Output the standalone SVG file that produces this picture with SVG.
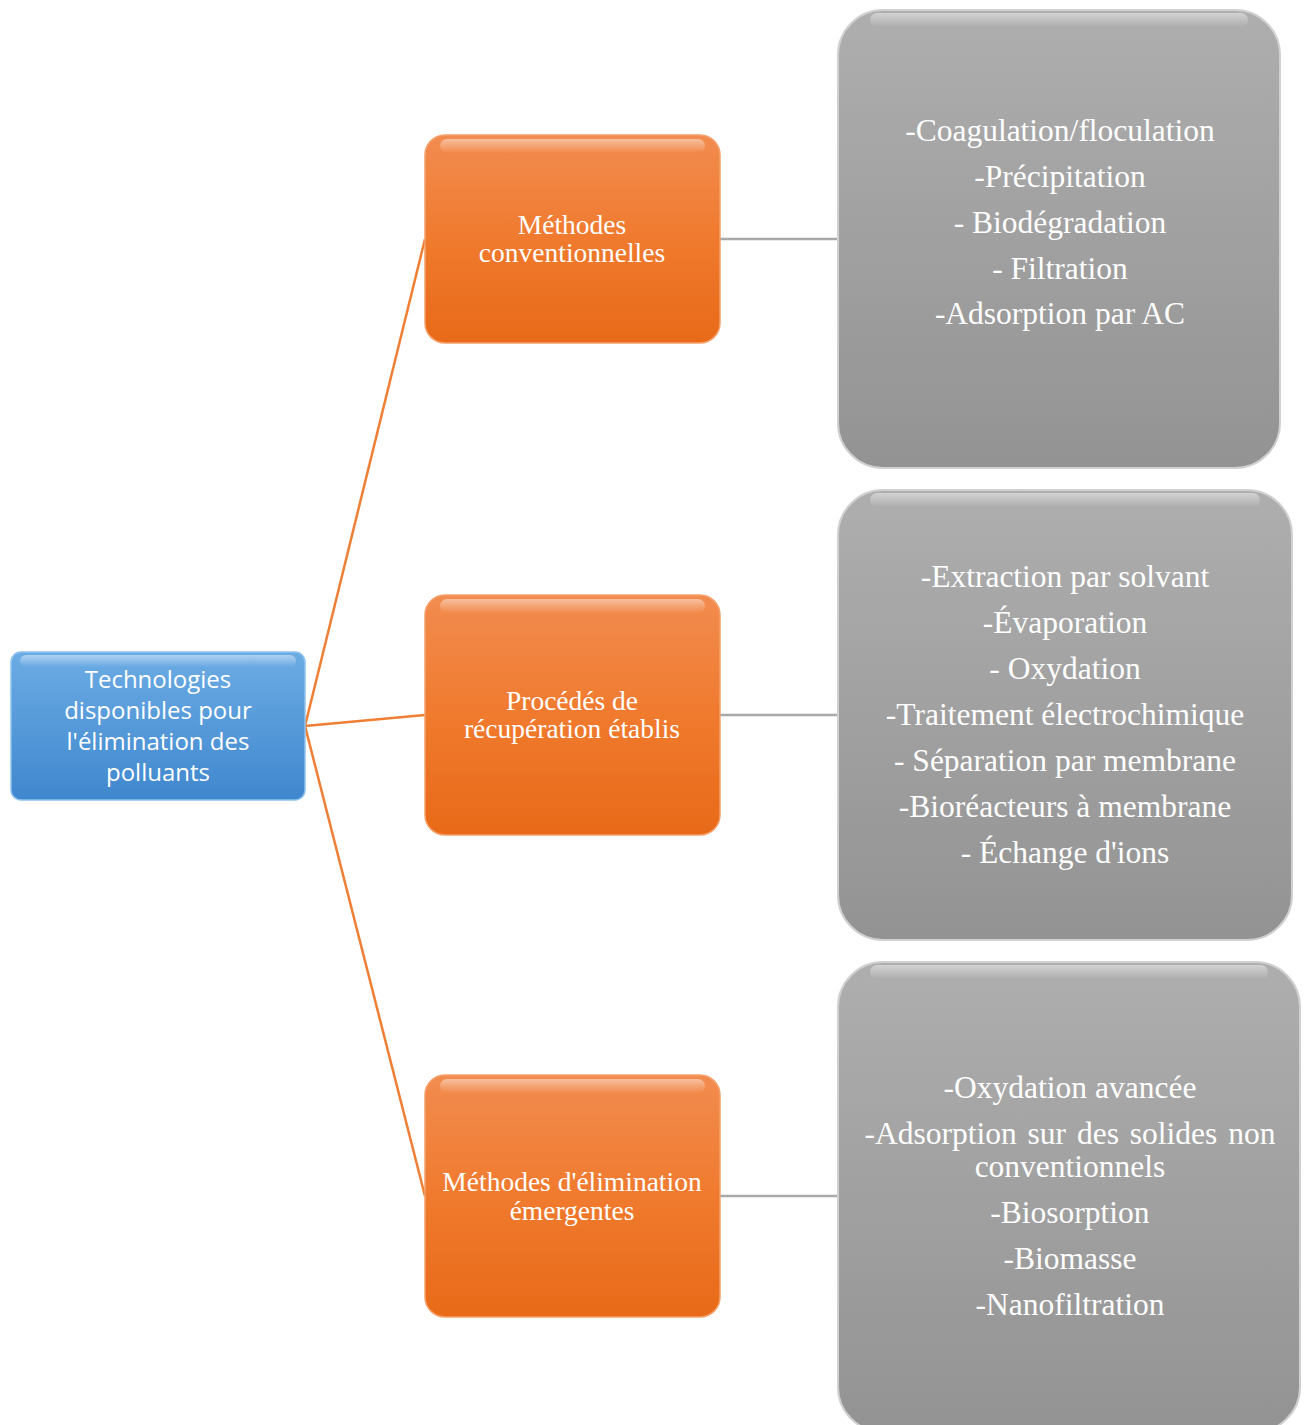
<svg xmlns="http://www.w3.org/2000/svg" width="1309" height="1425" viewBox="0 0 1309 1425">
<defs>
<linearGradient id="gOr" x1="0" y1="0" x2="0" y2="1">
<stop offset="0" stop-color="#F28C50"/><stop offset="0.5" stop-color="#F07A2E"/><stop offset="1" stop-color="#E86A18"/>
</linearGradient>
<linearGradient id="gGr" x1="0" y1="0" x2="0" y2="1">
<stop offset="0" stop-color="#AEAEAE"/><stop offset="1" stop-color="#939393"/>
</linearGradient>
<linearGradient id="gBl" x1="0" y1="0" x2="0" y2="1">
<stop offset="0" stop-color="#6CACE4"/><stop offset="1" stop-color="#3F87CE"/>
</linearGradient>
<linearGradient id="gHi" x1="0" y1="0" x2="0" y2="1">
<stop offset="0" stop-color="#FFFFFF" stop-opacity="0.45"/><stop offset="1" stop-color="#FFFFFF" stop-opacity="0"/>
</linearGradient>
</defs>
<style>
.or{fill:url(#gOr);stroke:#F5A06A;stroke-width:1.5}
.gr{fill:url(#gGr);stroke:#D0D0D0;stroke-width:2}
.bl{fill:url(#gBl);stroke:#8EC2EE;stroke-width:1.5}
.hi{fill:url(#gHi)}
.t1{font-family:"Liberation Serif","Times New Roman",serif;font-size:27.5px;fill:#FFFFFF;text-anchor:middle}
.t2{font-family:"Liberation Serif","Times New Roman",serif;font-size:31.5px;fill:#FFFFFF;text-anchor:middle}
.t0{font-family:"Open Sans","Noto Sans",sans-serif;font-size:24px;fill:#FFFFFF;text-anchor:middle}
.co{stroke:#EE7F35;stroke-width:2.5;fill:none}
.cg{stroke:#A9A9A9;stroke-width:2.5;fill:none}
</style>
<g id="connectors">
<line class="co" x1="305" y1="726" x2="425" y2="239"/>
<line class="co" x1="305" y1="726" x2="425" y2="715"/>
<line class="co" x1="305" y1="726" x2="425" y2="1196"/>
<line class="cg" x1="720" y1="239" x2="838" y2="239"/>
<line class="cg" x1="720" y1="715" x2="838" y2="715"/>
<line class="cg" x1="720" y1="1196" x2="838" y2="1196"/>
</g>
<g id="root">
<rect class="bl" x="11" y="652" width="294" height="148" rx="10"/>
<rect class="hi" x="20" y="655" width="276" height="12" rx="6"/>
<text class="t0"><tspan x="158" y="688">Technologies</tspan><tspan x="158" y="719">disponibles pour</tspan><tspan x="158" y="750">l'élimination des</tspan><tspan x="158" y="781">polluants</tspan></text>
</g>
<g id="conv">
<rect class="or" x="425" y="135" width="295" height="208" rx="20"/>
<rect class="hi" x="440" y="139" width="265" height="14" rx="7"/>
<text class="t1"><tspan x="572" y="234">Méthodes</tspan><tspan x="572" y="262">conventionnelles</tspan></text>
</g>
<g id="recup">
<rect class="or" x="425" y="595" width="295" height="240" rx="20"/>
<rect class="hi" x="440" y="599" width="265" height="14" rx="7"/>
<text class="t1"><tspan x="572" y="710">Procédés de</tspan><tspan x="572" y="738">récupération établis</tspan></text>
</g>
<g id="emerg">
<rect class="or" x="425" y="1075" width="295" height="242" rx="20"/>
<rect class="hi" x="440" y="1079" width="265" height="14" rx="7"/>
<text class="t1"><tspan x="572" y="1191">Méthodes d'élimination</tspan><tspan x="572" y="1220">émergentes</tspan></text>
</g>
<g id="list1">
<rect class="gr" x="838" y="10" width="442" height="458" rx="45"/>
<rect class="hi" x="870" y="13" width="378" height="14" rx="7"/>
<text class="t2"><tspan x="1060" y="141">-Coagulation/floculation</tspan><tspan x="1060" y="187">-Précipitation</tspan><tspan x="1060" y="233">- Biodégradation</tspan><tspan x="1060" y="279">- Filtration</tspan><tspan x="1060" y="324">-Adsorption par AC</tspan></text>
</g>
<g id="list2">
<rect class="gr" x="838" y="490" width="454" height="450" rx="45"/>
<rect class="hi" x="870" y="493" width="390" height="14" rx="7"/>
<text class="t2"><tspan x="1065" y="587">-Extraction par solvant</tspan><tspan x="1065" y="633">-Évaporation</tspan><tspan x="1065" y="679">- Oxydation</tspan><tspan x="1065" y="725">-Traitement électrochimique</tspan><tspan x="1065" y="771">- Séparation par membrane</tspan><tspan x="1065" y="817">-Bioréacteurs à membrane</tspan><tspan x="1065" y="863">- Échange d'ions</tspan></text>
</g>
<g id="list3">
<rect class="gr" x="838" y="962" width="462" height="470" rx="45"/>
<rect class="hi" x="870" y="965" width="398" height="14" rx="7"/>
<text class="t2"><tspan x="1070" y="1098">-Oxydation avancée</tspan><tspan x="1070" y="1144" word-spacing="3">-Adsorption sur des solides non</tspan><tspan x="1070" y="1177">conventionnels</tspan><tspan x="1070" y="1223">-Biosorption</tspan><tspan x="1070" y="1269">-Biomasse</tspan><tspan x="1070" y="1315">-Nanofiltration</tspan></text>
</g>
</svg>
